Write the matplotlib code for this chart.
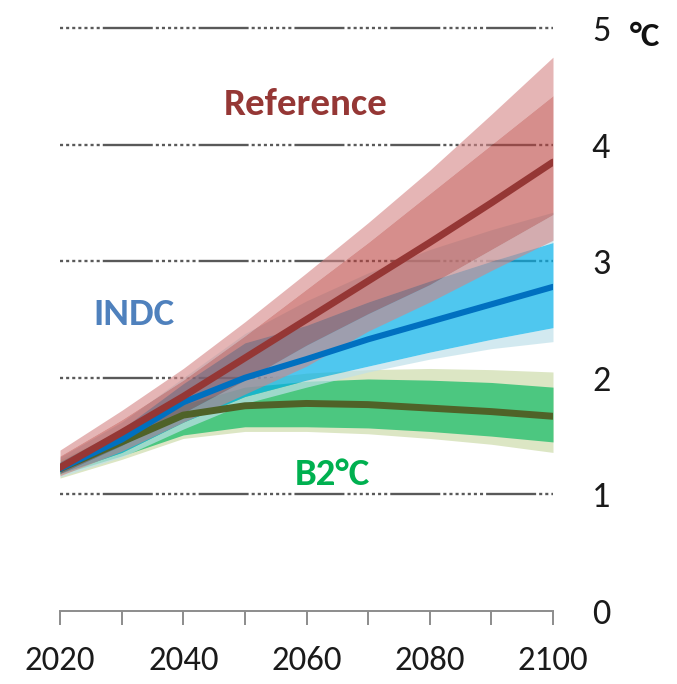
import matplotlib
matplotlib.use("Agg")
import matplotlib.pyplot as plt
from matplotlib import font_manager

# ---- data -------------------------------------------------------------
years = [2020, 2030, 2040, 2050, 2060, 2070, 2080, 2090, 2100]

ref_mid = [1.23, 1.53, 1.84, 2.17, 2.50, 2.83, 3.16, 3.50, 3.85]
ref_hi_outer = [1.38, 1.72, 2.08, 2.48, 2.90, 3.33, 3.78, 4.26, 4.75]
ref_hi_inner = [1.33, 1.64, 1.98, 2.36, 2.76, 3.16, 3.58, 4.00, 4.42]
ref_lo_inner = [1.18, 1.42, 1.70, 1.98, 2.28, 2.55, 2.80, 3.10, 3.40]
ref_lo_outer = [1.16, 1.37, 1.62, 1.86, 2.10, 2.40, 2.65, 2.92, 3.18]

indc_mid = [1.22, 1.47, 1.79, 2.00, 2.16, 2.33, 2.48, 2.63, 2.78]
indc_hi_outer = [1.32, 1.62, 2.00, 2.38, 2.66, 2.90, 3.10, 3.27, 3.42]
indc_hi_inner = [1.28, 1.56, 1.95, 2.30, 2.45, 2.65, 2.83, 3.00, 3.16]
indc_lo_inner = [1.18, 1.36, 1.62, 1.84, 1.98, 2.10, 2.22, 2.33, 2.43]
indc_lo_outer = [1.15, 1.32, 1.56, 1.78, 1.92, 2.05, 2.16, 2.25, 2.31]

b2_mid = [1.22, 1.45, 1.68, 1.76, 1.78, 1.77, 1.74, 1.71, 1.67]
b2_hi_outer = [1.30, 1.55, 1.82, 1.98, 2.04, 2.07, 2.08, 2.07, 2.05]
b2_hi_inner = [1.27, 1.52, 1.77, 1.92, 1.97, 1.99, 1.98, 1.96, 1.92]
b2_lo_inner = [1.17, 1.33, 1.51, 1.58, 1.58, 1.57, 1.54, 1.50, 1.45]
b2_lo_outer = [1.14, 1.30, 1.48, 1.54, 1.54, 1.52, 1.48, 1.43, 1.36]

y_ticks = [0, 1, 2, 3, 4, 5]
x_ticks = [2020, 2030, 2040, 2050, 2060, 2070, 2080, 2090, 2100]
x_labels = ["2020", "", "2040", "", "2060", "", "2080", "", "2100"]

# ---- font -------------------------------------------------------------
installed = {f.name for f in font_manager.fontManager.ttflist}
family = "Roboto"
for cand in ["Carlito", "Roboto Condensed", "Liberation Sans Narrow",
             "Open Sans Condensed", "DejaVu Sans Condensed"]:
    if cand in installed:
        family = cand
        break
plt.rcParams["font.family"] = [family, "DejaVu Sans"]
plt.rcParams["lines.scale_dashes"] = False

# ---- figure -----------------------------------------------------------
fig = plt.figure(figsize=(6.77, 6.84), dpi=100)
ax = fig.add_axes([60 / 677, 1 - 611 / 684, 493 / 677, 583 / 684])
ax.set_xlim(2020, 2100)
ax.set_ylim(0, 5)

# dash-dot style horizontal guides
dash = (0, [2.2, 2.2] * 7 + [36, 2.2])
for v in y_ticks[1:]:
    ax.plot([2020, 2100], [v, v], color="#595959", lw=1.7,
            linestyle=dash, zorder=1, solid_capstyle="butt",
            dash_capstyle="butt", clip_on=False)

# B2°C bands (opaque)
ax.fill_between(years, b2_lo_outer, b2_hi_outer, color="#dce6c4", lw=0, zorder=2)
ax.fill_between(years, b2_lo_inner, b2_hi_inner, color="#4cc780", lw=0, zorder=2.1)

# INDC bands
a_indc = 0.7
ax.fill_between(years, indc_lo_outer, indc_lo_inner, color="#c0e1ea",
                alpha=a_indc, lw=0, zorder=3)
ax.fill_between(years, indc_hi_inner, indc_hi_outer, color="#c0e1ea",
                alpha=a_indc, lw=0, zorder=3)
ax.fill_between(years, indc_lo_inner, indc_hi_inner, color="#05b0e9",
                alpha=a_indc, lw=0, zorder=3.1)

# Reference bands
a_ref = 0.6
ax.fill_between(years, ref_lo_outer, ref_lo_inner, color="#d48484",
                alpha=a_ref, lw=0, zorder=4)
ax.fill_between(years, ref_hi_inner, ref_hi_outer, color="#d48484",
                alpha=a_ref, lw=0, zorder=4)
ax.fill_between(years, ref_lo_inner, ref_hi_inner, color="#bb433f",
                alpha=a_ref, lw=0, zorder=4.1)

# central pathways
ax.plot(years, b2_mid, color="#4f6228", lw=5.0, solid_capstyle="round", zorder=5)
ax.plot(years, indc_mid, color="#0070c0", lw=4.4, solid_capstyle="round", zorder=5.1)
ax.plot(years, ref_mid, color="#953735", lw=5.0, solid_capstyle="round", zorder=5.2)

# scenario labels
ax.text(2059.8, 4.34, "Reference", color="#953735", fontsize=28, fontweight="bold",
        ha="center", va="center")
ax.text(2032.0, 2.54, "INDC", color="#4f81bd", fontsize=28, fontweight="bold",
        ha="center", va="center")
ax.text(2064.2, 1.17, "B2°C", color="#00b050", fontsize=28, fontweight="bold",
        ha="center", va="center")

# axes styling
for side in ["left", "right", "top"]:
    ax.spines[side].set_visible(False)
ax.spines["bottom"].set_color("#8c8c8c")
ax.spines["bottom"].set_linewidth(1.4)
ax.spines["bottom"].set_bounds(2020, 2100)

ax.set_xticks(x_ticks)
ax.set_xticklabels(x_labels)
ax.tick_params(axis="x", length=10, width=1.4, color="#8c8c8c",
               pad=15, labelsize=25, labelcolor="#1a1a1a")

ax.yaxis.tick_right()
ax.set_yticks(y_ticks)
ax.tick_params(axis="y", length=0, pad=28, labelsize=26, labelcolor="#1a1a1a")

fig.text(630 / 677, 1 - 37 / 684, "°C", fontsize=25, fontweight="bold",
         color="#111111", ha="left", va="center")

fig.savefig("out.png", dpi=100, facecolor="white")
